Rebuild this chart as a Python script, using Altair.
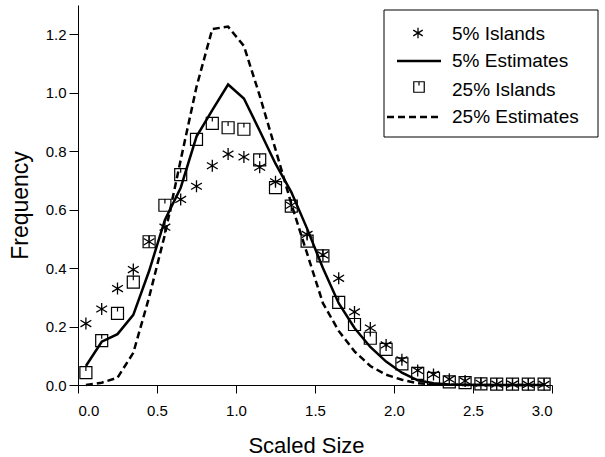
import altair as alt
import pandas as pd

# ---- data ----
sizes = [0.05, 0.15, 0.25, 0.35, 0.45, 0.55, 0.65, 0.75, 0.85, 0.95,
         1.05, 1.15, 1.25, 1.35, 1.45, 1.55, 1.65, 1.75, 1.85, 1.95,
         2.05, 2.15, 2.25, 2.35, 2.45, 2.55, 2.65, 2.75, 2.85, 2.95]
islands_5 = [0.21, 0.26, 0.33, 0.395, 0.49, 0.54, 0.635, 0.68, 0.75, 0.79,
             0.78, 0.745, 0.695, 0.615, 0.515, 0.445, 0.365, 0.25, 0.195, 0.137,
             0.086, 0.05, 0.036, 0.02, 0.014, 0.006, 0.003, 0.003, 0.002, 0.002]
islands_25 = [0.042, 0.152, 0.245, 0.352, 0.49, 0.615, 0.72, 0.84, 0.895, 0.88,
              0.875, 0.77, 0.675, 0.612, 0.492, 0.442, 0.283, 0.207, 0.16, 0.122,
              0.072, 0.04, 0.023, 0.011, 0.008, 0.004, 0.003, 0.003, 0.003, 0.003]
estimates_5 = [0.065, 0.148, 0.174, 0.24, 0.39, 0.565, 0.675, 0.85, 0.94, 1.028,
               0.98, 0.87, 0.757, 0.66, 0.535, 0.40, 0.28, 0.195, 0.13, 0.08,
               0.042, 0.016, 0.006, 0.002, 0.001, 0.0, 0.0, 0.0, 0.0, 0.0]
estimates_25 = [0.0, 0.008, 0.025, 0.11, 0.30, 0.515, 0.77, 1.02, 1.218, 1.226,
                1.16, 0.99, 0.806, 0.62, 0.45, 0.28, 0.185, 0.115, 0.065, 0.035,
                0.018, 0.006, 0.002, 0.001, 0.0, 0.0, 0.0, 0.0, 0.0, 0.0]
legend_labels = ["5% Islands", "5% Estimates", "25% Islands", "25% Estimates"]
x_ticks = [0.0, 0.5, 1.0, 1.5, 2.0, 2.5, 3.0]
y_ticks = [0.0, 0.2, 0.4, 0.6, 0.8, 1.0, 1.2]

df = pd.DataFrame({"size": sizes, "i5": islands_5, "i25": islands_25,
                   "e5": estimates_5, "e25": estimates_25})

FONT = "Liberation Sans"
W, H = 474, 380
ASTER = "M0,-1L0,1M-0.9,-0.55L0.9,0.55M-0.9,0.55L0.9,-0.55"
SQUARE = "M-1,-1L1,-1L1,1L-1,1Z M0,-1L0,-0.3"

xscale = alt.Scale(domain=[0, 3.0], nice=False, zero=False)
yscale = alt.Scale(domain=[0, 1.3], nice=False)
xaxis = alt.Axis(values=x_ticks, format=".1f", grid=False, tickSize=8,
                 labelPadding=10, labelFontSize=15, titleFontSize=22,
                 titleX=228, titleY=67, titleBaseline="alphabetic",
                 titleAnchor="middle")
yaxis = alt.Axis(values=y_ticks, format=".1f", grid=False, tickSize=9,
                 labelPadding=3, labelFontSize=15, titleFontSize=23,
                 titleX=-58, titleY=200, titleAlign="center",
                 titleBaseline="middle", titleAngle=-90)

base = alt.Chart(df).encode(
    x=alt.X("size:Q", scale=xscale, axis=xaxis, title="Scaled Size"))


def Y(field):
    return alt.Y(field, type="quantitative", scale=yscale, axis=yaxis,
                 title="Frequency")


line5 = base.mark_line(color="black", strokeWidth=2.5).encode(y=Y("e5"))
line25 = base.mark_line(color="black", strokeWidth=2.5,
                        strokeDash=[7, 4]).encode(y=Y("e25"))
pts5 = base.mark_point(shape=ASTER, size=144, color="black", opacity=1,
                       strokeWidth=1.3, filled=False).encode(y=Y("i5"))
pts25 = base.mark_point(shape=SQUARE, size=144, color="black", opacity=1,
                        strokeWidth=1.2, filled=False).encode(y=Y("i25"))

# ---- hand-built legend box ----
one = alt.Chart(pd.DataFrame({"k": [0]}))
box = one.mark_rect(fill="white", stroke="black", strokeWidth=1).encode(
    x=alt.value(306), x2=alt.value(520), y=alt.value(5), y2=alt.value(132))
sym5 = one.mark_point(shape=ASTER, size=110, color="black", opacity=1,
                      strokeWidth=1.3, filled=False).encode(
    x=alt.value(340), y=alt.value(28))
leg_line5 = one.mark_rule(color="black", strokeWidth=2.5).encode(
    x=alt.value(319), x2=alt.value(363), y=alt.value(56))
sym25 = one.mark_point(shape=SQUARE, size=110, color="black", opacity=1,
                       strokeWidth=1.2, filled=False).encode(
    x=alt.value(341), y=alt.value(82))
leg_line25 = one.mark_rule(color="black", strokeWidth=2.5,
                           strokeDash=[7, 4]).encode(
    x=alt.value(309), x2=alt.value(364), y=alt.value(112))
text_y = [35, 62, 91, 118]
texts = [one.mark_text(text=lab, align="left", baseline="alphabetic",
                       fontSize=19, font=FONT, color="black").encode(
    x=alt.value(374), y=alt.value(ty)) for lab, ty in zip(legend_labels, text_y)]

chart = alt.layer(line25, line5, pts25, pts5, box, sym5, leg_line5, sym25,
                  leg_line25, *texts).properties(
    width=W, height=H,
    padding={"left": 78, "top": 5, "right": 53, "bottom": 72},
    autosize=alt.AutoSizeParams(type="none"),
).configure(font=FONT).configure_view(stroke=None).configure_axis(
    domainColor="black", tickColor="black", labelColor="black",
    titleColor="black", titleFontWeight="normal", domainWidth=1, tickWidth=1,
    labelFont=FONT, titleFont=FONT)

chart.save("out.html", embed_options={"renderer": "svg", "actions": False})
